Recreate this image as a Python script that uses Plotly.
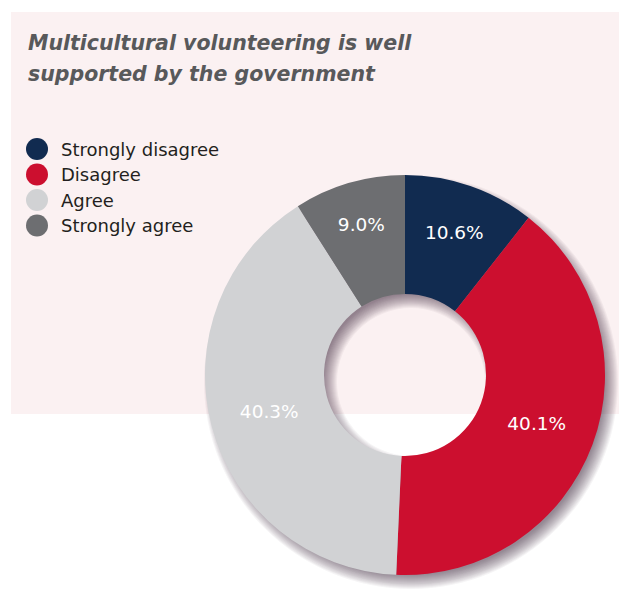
import plotly.graph_objects as go

# Survey responses
categories = ["Strongly disagree", "Disagree", "Agree", "Strongly agree"]
shares = [10.6, 40.1, 40.3, 9.0]
colors = ["#112B50", "#CC0F2F", "#D1D2D4", "#6D6E71"]
title_lines = ["Multicultural volunteering is well", "supported by the government"]

W, H = 619, 589
CX, CY = 405, 375          # donut centre (px)
R_OUT, R_IN = 200, 81      # outer / hole radius (px)


def px_domain(cx, cy, r):
    return dict(
        x=[max(0, (cx - r) / W), min(1, (cx + r) / W)],
        y=[max(0, 1 - (cy + r) / H), min(1, 1 - (cy - r) / H)],
    )


fig = go.Figure()

# soft drop shadow: stacked translucent rings, offset down-right
SDX, SDY = 6, 7
for k in range(-7, 8):
    ro = R_OUT + k
    ri = R_IN - k
    fig.add_trace(go.Pie(
        values=[1],
        hole=ri / ro,
        domain=px_domain(CX + SDX, CY + SDY, ro),
        marker=dict(colors=["rgba(40,30,35,0.042)"], line=dict(width=0)),
        textinfo="none",
        hoverinfo="skip",
        showlegend=False,
        sort=False,
    ))

fig.add_trace(go.Pie(
    labels=categories,
    values=shares,
    hole=R_IN / R_OUT,
    domain=px_domain(CX, CY, R_OUT),
    marker=dict(colors=colors, line=dict(width=0)),
    sort=False,
    direction="clockwise",
    rotation=0,
    texttemplate="%{value:.1f}%",
    textposition="inside",
    insidetextorientation="horizontal",
    textfont=dict(family="DejaVu Sans", size=18.5, color="white"),
    showlegend=False,
))

shapes = [dict(
    type="rect", xref="paper", yref="paper", layer="below",
    x0=11 / W, x1=1, y0=1 - 414 / H, y1=1 - 12 / H,
    fillcolor="#FBF1F2", line=dict(width=0),
)]
annotations = []

# title
for i, line in enumerate(title_lines):
    annotations.append(dict(
        xref="paper", yref="paper", x=26 / W, y=1 - (43 + 31 * i) / H,
        xanchor="left", yanchor="middle", showarrow=False,
        text="<b><i>" + line + "</i></b>",
        font=dict(family="DejaVu Sans", size=20.5, color="#58595B"),
    ))

# legend with round swatches
for i, (cat, col) in enumerate(zip(categories, colors)):
    yc = 149 + 25.5 * i
    shapes.append(dict(
        type="circle", xref="paper", yref="paper",
        x0=26 / W, x1=48 / W, y0=1 - (yc + 11) / H, y1=1 - (yc - 11) / H,
        fillcolor=col, line=dict(width=0),
    ))
    annotations.append(dict(
        xref="paper", yref="paper", x=59 / W, y=1 - yc / H,
        xanchor="left", yanchor="middle", showarrow=False,
        text=cat,
        font=dict(family="DejaVu Sans", size=18, color="#231F20"),
    ))

fig.update_layout(
    width=W, height=H,
    margin=dict(l=0, r=0, t=0, b=0),
    paper_bgcolor="white",
    plot_bgcolor="white",
    shapes=shapes,
    annotations=annotations,
    showlegend=False,
)

fig.write_html("out.html")
